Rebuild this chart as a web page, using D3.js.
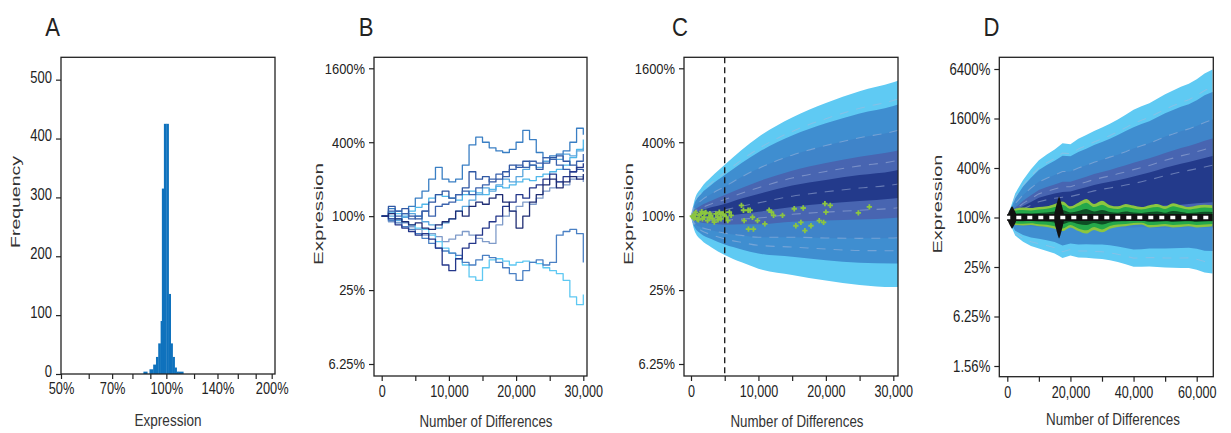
<!DOCTYPE html>
<html><head><meta charset="utf-8">
<script src="https://cdn.jsdelivr.net/npm/d3@7"></script>
<style>
body{margin:0;background:#fff;}
svg text{font-family:"Liberation Sans",Arial,Helvetica,sans-serif;fill:#222;}
</style></head><body>
<svg id="c" width="1231" height="433"></svg>
<script>
// ---------------- DATA ----------------
const panelLabels = ["A","B","C","D"];

// Panel A: histogram of expression (bin edges in %, counts)
const histLo = [86, 89.5, 91.7, 93.4, 94.8, 96.3, 97.1, 98.4, 100, 101.5, 102.9, 104.2, 105.6, 107, 108.4];
const histHi = [88.2, 91.7, 93.4, 94.8, 96.3, 97.1, 98.4, 100, 101.5, 102.9, 104.2, 105.6, 107, 108.4, 111.8];
const histCount = [4, 8, 16, 29, 52, 90, 315, 425, 425, 136, 52, 29, 11, 4, 4];
const histXTicks = [50, 60, 70, 80, 90, 100, 120, 140, 160, 180, 200];
const histXLabels = ["50%", "", "70%", "", "", "100%", "", "140%", "", "", "200%"];
const histYTicks = [0, 100, 200, 300, 400, 500];

// Panel B: random-walk expression traces (% of start) every 1,000 differences
const walkX = [0,1000,2000,3000,4000,5000,6000,7000,8000,9000,10000,11000,12000,13000,14000,15000,16000,17000,18000,19000,20000,21000,22000,23000,24000,25000,26000,27000,28000,29000,30000];
const walk1 = [100,95,105,90,85,80,78,70,62,55,50,45,40,32,30,38,44,45,43,40,42,43,42,41,38,36,34,30,22,19,23];
const walk2 = [100,108,95,100,110,118,125,140,150,145,140,135,150,160,155,150,165,175,170,180,190,200,195,210,220,230,240,260,300,350,420];
const walk3 = [100,115,110,105,120,140,160,200,250,200,190,200,260,380,440,400,360,340,330,350,400,500,420,330,300,310,320,340,400,520,460];
const walk4 = [100,92,88,82,78,72,66,60,55,52,50,48,42,40,44,48,46,42,38,34,30,36,42,44,40,42,70,75,78,72,42];
const walk5 = [100,95,85,80,75,70,72,65,55,40,36,45,55,60,70,80,90,100,120,130,150,140,170,180,200,220,190,210,230,250,270];
const walk6 = [100,105,95,90,85,88,80,78,85,90,95,110,100,120,130,125,140,150,130,110,80,100,130,150,180,200,170,190,210,200,220];
const walk7 = [100,110,100,105,95,100,110,100,120,125,130,150,160,150,170,180,200,220,210,240,260,250,280,270,300,290,260,240,230,280,320];
const walk8 = [100,90,95,88,82,78,70,72,68,62,65,70,75,70,66,62,60,85,100,110,120,130,125,140,160,170,190,180,200,210,190];
const walk9 = [100,120,110,115,100,95,110,130,150,160,140,150,170,230,200,210,190,200,230,260,250,280,260,240,270,300,310,280,260,240,230];
const walk10 = [100,100,92,98,105,100,90,85,80,88,95,110,120,135,150,170,160,180,200,190,210,240,260,250,280,300,290,320,310,340,360];
const walkColors = ["#5ec8f2","#4fb7ea","#3a7fc4","#4a80c4","#24378a","#1f2d74","#3b63ad","#7f9bc9","#2f57a3","#5aa6dd"];

// log2 tick values / labels
const logTicksBC = [4, 2, 0, -2, -4];
const logLabelsBC = ["1600%", "400%", "100%", "25%", "6.25%"];
const logTicksD = [6, 4, 2, 0, -2, -4, -6];
const logLabelsD = ["6400%", "1600%", "400%", "100%", "25%", "6.25%", "1.56%"];

// Panel C: fan of quantile bands (log2 fold), centre + half-widths
const fanCX = [0, 500, 1500, 3000, 5000, 7500, 10000, 15000, 20000, 25000, 30000, 31000];
const fanCCenter = [0, 0.02, 0.06, 0.11, 0.17, 0.27, 0.36, 0.54, 0.66, 0.76, 0.85, 0.88];
const fanCHalf1 = [0, 0.40, 0.70, 0.95, 1.22, 1.52, 1.78, 2.13, 2.40, 2.62, 2.77, 2.80];
const fanCHalf2 = [0, 0.31, 0.54, 0.73, 0.94, 1.17, 1.37, 1.64, 1.85, 2.02, 2.13, 2.16];
const fanCHalf3 = [0, 0.21, 0.36, 0.49, 0.63, 0.79, 0.93, 1.11, 1.25, 1.36, 1.44, 1.46];
const fanCHalf4 = [0, 0.13, 0.23, 0.31, 0.40, 0.49, 0.58, 0.69, 0.78, 0.85, 0.90, 0.91];
const fanCHalf5 = [0, 0.05, 0.09, 0.13, 0.16, 0.21, 0.24, 0.29, 0.32, 0.35, 0.37, 0.38];
const bandColors = ["#5fcaf3", "#3f8ed0", "#3f84c9", "#4865b1", "#233a8b"];
const cutoffC = 5000;
// Panel C: observed genes (differences, log2 fold)
const obsX = [200,300,450,600,700,950,1100,1200,1450,1600,1700,1950,2000,2200,2450,2700,2800,2950,3200,3450,3700,3950,4000,4200,4400,4450,4700,4950,5000,5200,5450,5700,5950,
  7480,7780,7880,8470,8770,9120,8520,9260,9860,10950,11590,11940,12240,13570,15310,15550,16300,16640,16890,17790,19020,19660,19860,20010,20650,24820,26450];
const obsY = [0.0,-0.02,-0.05,0.05,0.1,-0.08,-0.1,0.02,0.06,0.12,-0.07,-0.03,0.08,0.1,-0.12,-0.03,0.07,0.02,-0.07,-0.16,0.06,-0.03,-0.1,0.11,0.04,-0.07,0.06,0.02,0.1,-0.03,-0.12,0.11,0.02,
  0.29,0.16,-0.12,0.16,0.16,-0.03,-0.35,-0.35,-0.12,-0.21,0.16,0.11,0.02,0.02,0.2,-0.26,-0.17,0.22,-0.39,-0.26,-0.12,-0.17,0.34,0.11,0.29,0.09,0.25];

// Panel D: simulated fan (log2 fold) every 2,500 differences
const fanDX = [0,2500,5000,7500,10000,12500,15000,17500,20000,22500,25000,27500,30000,32500,35000,37500,40000,42500,45000,47500,50000,52500,55000,57500,60000,62500,65000];
const fanDCenter = [0,0.12,0.27,0.40,0.53,0.60,0.65,0.68,0.71,0.78,0.85,0.92,0.98,1.03,1.08,1.13,1.18,1.25,1.32,1.40,1.48,1.55,1.62,1.68,1.74,1.80,1.86];
// upper offsets from centre for each band (outer -> inner)
const fanDUp1 = [0,0.85,1.25,1.55,1.78,1.95,2.10,2.32,2.25,2.40,2.48,2.58,2.66,2.76,2.88,3.02,3.17,3.24,3.30,3.40,3.50,3.58,3.66,3.72,3.85,4.02,4.12];
const fanDUp2 = [0,0.66,0.98,1.21,1.39,1.52,1.64,1.81,1.76,1.87,1.93,2.01,2.07,2.15,2.25,2.36,2.47,2.53,2.57,2.65,2.73,2.79,2.85,2.90,3.00,3.14,3.21];
const fanDUp3 = [0,0.44,0.64,0.79,0.91,0.99,1.07,1.18,1.15,1.22,1.26,1.31,1.35,1.41,1.46,1.53,1.61,1.65,1.68,1.73,1.79,1.82,1.86,1.90,1.96,2.04,2.10];
const fanDUp4 = [0,0.28,0.41,0.50,0.58,0.63,0.68,0.76,0.73,0.77,0.80,0.84,0.86,0.89,0.94,0.98,1.03,1.05,1.07,1.10,1.13,1.16,1.19,1.21,1.25,1.30,1.33];
const fanDUp5 = [0,0.13,0.19,0.23,0.27,0.29,0.32,0.35,0.34,0.36,0.37,0.39,0.40,0.41,0.43,0.45,0.48,0.49,0.50,0.51,0.53,0.54,0.55,0.56,0.58,0.60,0.62];
// lower edges (absolute log2) for each band (outer -> inner)
const fanDLo1 = [0,-0.73,-0.98,-1.15,-1.25,-1.35,-1.45,-1.64,-1.54,-1.62,-1.63,-1.66,-1.68,-1.73,-1.80,-1.89,-1.99,-1.99,-1.98,-2.00,-2.02,-2.03,-2.04,-2.04,-2.11,-2.22,-2.26];
const fanDLo2 = [0,-0.54,-0.71,-0.81,-0.86,-0.92,-0.99,-1.13,-1.05,-1.09,-1.08,-1.09,-1.09,-1.12,-1.17,-1.23,-1.29,-1.28,-1.25,-1.25,-1.25,-1.24,-1.23,-1.22,-1.26,-1.34,-1.35];
const fanDLo3 = [0,-0.3,-0.35,-0.35,-0.38,-0.38,-0.4,-0.42,-0.38,-0.4,-0.42,-0.4,-0.42,-0.4,-0.38,-0.4,-0.4,-0.38,-0.4,-0.42,-0.4,-0.42,-0.4,-0.38,-0.4,-0.4,-0.4];
const fanDLo4 = [0,-0.15,-0.2,-0.2,-0.2,-0.2,-0.2,-0.2,-0.2,-0.15,-0.1,-0.1,-0.05,0,0,0.05,0.05,0.1,0.1,0.1,0.15,0.15,0.15,0.2,0.2,0.2,0.2];
const fanDLo5 = [0,0.0,0.05,0.08,0.1,0.12,0.14,0.16,0.18,0.2,0.22,0.25,0.28,0.3,0.32,0.35,0.38,0.4,0.42,0.45,0.48,0.5,0.52,0.55,0.58,0.6,0.62];
// Panel D: observed (green) envelope around 100%
const greenUp1 = [0,0.35,0.40,0.38,0.42,0.45,0.55,0.65,0.45,0.60,0.75,0.55,0.68,0.50,0.45,0.55,0.48,0.42,0.50,0.55,0.45,0.58,0.50,0.42,0.48,0.52,0.50];
const greenLo1 = [0,-0.30,-0.32,-0.30,-0.35,-0.38,-0.45,-0.55,-0.40,-0.55,-0.65,-0.50,-0.60,-0.45,-0.38,-0.35,-0.30,-0.28,-0.40,-0.38,-0.35,-0.40,-0.38,-0.35,-0.40,-0.38,-0.35];
const greenUp2 = [0,0.28,0.30,0.28,0.32,0.35,0.42,0.52,0.35,0.46,0.60,0.42,0.52,0.38,0.34,0.42,0.36,0.32,0.38,0.42,0.34,0.45,0.38,0.32,0.36,0.40,0.38];
const greenLo2 = [0,-0.24,-0.25,-0.23,-0.27,-0.29,-0.35,-0.44,-0.30,-0.44,-0.52,-0.38,-0.48,-0.34,-0.28,-0.26,-0.22,-0.21,-0.30,-0.29,-0.26,-0.30,-0.28,-0.26,-0.30,-0.28,-0.26];
const greenUp3 = [0,0.16,0.17,0.16,0.18,0.20,0.24,0.30,0.20,0.26,0.34,0.24,0.30,0.22,0.19,0.24,0.20,0.18,0.22,0.24,0.19,0.26,0.22,0.18,0.20,0.23,0.22];
const greenLo3 = [0,-0.14,-0.15,-0.14,-0.16,-0.17,-0.20,-0.26,-0.18,-0.26,-0.30,-0.22,-0.28,-0.20,-0.16,-0.15,-0.13,-0.12,-0.18,-0.17,-0.15,-0.18,-0.16,-0.15,-0.18,-0.16,-0.15];
const greenColors = ["#8cc63f", "#25a84a", "#0d4f25"];
// black diamonds: centre (differences), half width (differences), half height (log2)
const diamondX = [1500, 16400];
const diamondHalfW = [1700, 1700];
const diamondHalfH = [0.45, 0.85];

// ---------------- DRAW ----------------
const svg = d3.select("#c");

function squeeze(sel, f){
  sel.each(function(){
    const l = this.getComputedTextLength();
    if (l > 0) d3.select(this).attr("textLength", l*f).attr("lengthAdjust","spacingAndGlyphs");
  });
}
function frame(x0, y0, x1, y1){
  svg.append("rect").attr("x",x0).attr("y",y0).attr("width",x1-x0).attr("height",y1-y0)
    .attr("fill","none").attr("stroke","#222").attr("stroke-width",1.3);
}
function styleAxis(g, fs, f){
  g.attr("font-family", null).attr("font-size", null);
  g.select(".domain").remove();
  g.selectAll(".tick line").attr("stroke","#222").attr("stroke-width",1.2);
  g.selectAll(".tick text").attr("fill","#222").style("font-size", fs+"px");
  squeeze(g.selectAll(".tick text"), f);
}
function clip(id, x0, y0, x1, y1){
  svg.append("clipPath").attr("id",id).append("rect").attr("x",x0).attr("y",y0).attr("width",x1-x0).attr("height",y1-y0);
  return svg.append("g").attr("clip-path","url(#"+id+")");
}
function yTitle(txt, cx, cy, len){
  svg.append("text").attr("transform",`translate(${cx},${cy}) rotate(-90)`).attr("text-anchor","middle")
    .attr("dy","0.32em").style("font-size","13px").style("fill","#333").attr("textLength",len).attr("lengthAdjust","spacingAndGlyphs").text(txt);
}
function xTitle(txt, cx, by, len, fs){
  svg.append("text").attr("x",cx).attr("y",by).attr("text-anchor","middle")
    .style("font-size",fs+"px").style("fill","#333").attr("textLength",len).attr("lengthAdjust","spacingAndGlyphs").text(txt);
}
const letterPos = [[52.5,36],[366,36],[680,36],[991.5,36]];
panelLabels.forEach((t,i)=>{
  const tx = svg.append("text").attr("x",letterPos[i][0]).attr("y",letterPos[i][1]).attr("text-anchor","middle")
    .style("font-size","26px").text(t);
  squeeze(tx, 0.85);
});

// ---- Panel A ----
{
  const L=61, R=275, T=57.3, B=374;
  const x = d3.scaleLog().base(2).domain([50, 204.4]).range([L, R]);
  const y = d3.scaleLinear().domain([0, 538]).range([B, T]);
  const g = svg.append("g");
  g.selectAll("rect").data(histCount).join("rect")
    .attr("x",(d,i)=>x(histLo[i])).attr("width",(d,i)=>x(histHi[i])-x(histLo[i])+0.3)
    .attr("y",d=>y(d)).attr("height",d=>B-y(d)).attr("fill","#0f72bd");
  frame(L,T,R,B);
  const ax = svg.append("g").attr("transform",`translate(0,${B})`)
    .call(d3.axisBottom(x).tickValues(histXTicks).tickFormat((d,i)=>histXLabels[i]).tickSize(5).tickPadding(4));
  styleAxis(ax, 16, 0.8);
  const ay = svg.append("g").attr("transform",`translate(${L},0)`)
    .call(d3.axisLeft(y).tickValues(histYTicks).tickSize(5).tickPadding(4));
  styleAxis(ay, 16, 0.81);
  ay.selectAll(".tick text").attr("dy","0.15em");
  yTitle("Frequency", 16, 202, 92);
  xTitle("Expression", 168, 426, 67, 16);
}

// ---- Panel B ----
const yBC = d3.scaleLinear().domain([-4, 4]).range([364, 68.3]);
{
  const L=374, R=587, T=57.3, B=376;
  const x = d3.scaleLinear().domain([0, 30000]).range([381.7, 583.3]);
  const g = clip("clipB", L, T, R, B);
  const walks = [walk1,walk2,walk3,walk4,walk5,walk6,walk7,walk8,walk9,walk10];
  const line = d3.line().x((d,i)=>x(walkX[i])).y(d=>yBC(Math.log2(d/100))).curve(d3.curveStepAfter);
  const order = [7,0,1,3,9,2,8,6,4,5];
  order.forEach(k=>{
    g.append("path").attr("d", line(walks[k])).attr("fill","none")
      .attr("stroke", walkColors[k]).attr("stroke-width",1.3).attr("stroke-linejoin","round");
  });
  frame(L,T,R,B);
  const ax = svg.append("g").attr("transform",`translate(0,${B})`)
    .call(d3.axisBottom(x).tickValues([0,5000,10000,15000,20000,25000,30000])
      .tickFormat(d=> d%10000===0 ? d3.format(",")(d) : "").tickSize(5).tickPadding(4));
  styleAxis(ax, 17, 0.74);
  const ay = svg.append("g").attr("transform",`translate(${L},0)`)
    .call(d3.axisLeft(yBC).tickValues(logTicksBC).tickFormat((d,i)=>logLabelsBC[i]).tickSize(5).tickPadding(4));
  styleAxis(ay, 15, 0.86);
  yTitle("Expression", 319, 214, 102);
  xTitle("Number of Differences", 486, 427, 133, 17);
}

// ---- Panel C ----
{
  const L=684, R=898, T=57.3, B=376;
  const x = d3.scaleLinear().domain([0, 30000]).range([691, 893.3]);
  const g = clip("clipC", L, T, R, B);
  const halves = [fanCHalf1,fanCHalf2,fanCHalf3,fanCHalf4,fanCHalf5];
  halves.forEach((h,k)=>{
    const area = d3.area().x((d,i)=>x(fanCX[i])).y0((d,i)=>yBC(fanCCenter[i]-h[i])).y1((d,i)=>yBC(fanCCenter[i]+h[i])).curve(d3.curveMonotoneX);
    g.append("path").attr("d", area(fanCX)).attr("fill", bandColors[k]);
  });
  const dl = (f)=> d3.line().x((d,i)=>x(fanCX[i])).y((d,i)=>yBC(f(i))).curve(d3.curveMonotoneX)(fanCX);
  const dashFns = [i=>fanCCenter[i]+fanCHalf3[i], i=>fanCCenter[i]-fanCHalf3[i], i=>fanCCenter[i],
    i=>fanCCenter[i]+(fanCHalf4[i]+fanCHalf5[i])/2, i=>fanCCenter[i]-(fanCHalf4[i]+fanCHalf5[i])/2,
    i=>fanCCenter[i]+(fanCHalf1[i]+fanCHalf2[i])/2*0.93, i=>fanCCenter[i]-(fanCHalf2[i]+fanCHalf3[i])/2];
  dashFns.forEach(f=>{
    g.append("path").attr("d", dl(f)).attr("fill","none").attr("stroke","#aab9de")
      .attr("stroke-width",1.1).attr("stroke-dasharray","9,8").attr("opacity",0.5);
  });
  const sym = d3.symbol().type(d3.symbolCross).size(16);
  g.selectAll(".obs").data(obsX).join("path").attr("class","obs")
    .attr("transform",(d,i)=>`translate(${x(d)},${yBC(obsY[i])})`).attr("d", sym).attr("fill","#8cc63f");
  svg.append("line").attr("x1",x(cutoffC)).attr("x2",x(cutoffC)).attr("y1",T).attr("y2",B)
    .attr("stroke","#111").attr("stroke-width",1.3).attr("stroke-dasharray","6,4");
  frame(L,T,R,B);
  const ax = svg.append("g").attr("transform",`translate(0,${B})`)
    .call(d3.axisBottom(x).tickValues([0,5000,10000,15000,20000,25000,30000])
      .tickFormat(d=> d%10000===0 ? d3.format(",")(d) : "").tickSize(5).tickPadding(4));
  styleAxis(ax, 17, 0.74);
  const ay = svg.append("g").attr("transform",`translate(${L},0)`)
    .call(d3.axisLeft(yBC).tickValues(logTicksBC).tickFormat((d,i)=>logLabelsBC[i]).tickSize(5).tickPadding(4));
  styleAxis(ay, 15, 0.86);
  yTitle("Expression", 629, 214, 102);
  xTitle("Number of Differences", 797, 427, 133, 17);
}

// ---- Panel D ----
{
  const L=999.3, R=1213.3, T=57.3, B=376.7;
  const x = d3.scaleLinear().domain([0, 60000]).range([1007.3, 1196.7]);
  const y = d3.scaleLinear().domain([-6, 6]).range([366, 69]);
  const g = clip("clipD", L, T, R, B);
  const ups = [fanDUp1,fanDUp2,fanDUp3,fanDUp4,fanDUp5];
  const los = [fanDLo1,fanDLo2,fanDLo3,fanDLo4,fanDLo5];
  ups.forEach((h,k)=>{
    const area = d3.area().x((d,i)=>x(fanDX[i])).y0((d,i)=>y(los[k][i])).y1((d,i)=>y(fanDCenter[i]+h[i]));
    g.append("path").attr("d", area(fanDX)).attr("fill", bandColors[k]);
  });
  const dl = (f)=> d3.line().x((d,i)=>x(fanDX[i])).y((d,i)=>y(f(i)))(fanDX);
  const dashFns = [i=>fanDCenter[i]+fanDUp3[i], i=>fanDCenter[i]+fanDUp5[i]*0.4,
    i=>fanDCenter[i]+(fanDUp4[i]+fanDUp5[i])/2, i=>fanDCenter[i]+(fanDUp1[i]+fanDUp2[i])/2*0.93,
    i=>(fanDLo1[i]+fanDLo2[i])/2];
  dashFns.forEach(f=>{
    g.append("path").attr("d", dl(f)).attr("fill","none").attr("stroke","#aab9de")
      .attr("stroke-width",1.1).attr("stroke-dasharray","9,8").attr("opacity",0.5);
  });
  const gUps = [greenUp1, greenUp2, greenUp3], gLos = [greenLo1, greenLo2, greenLo3];
  gUps.forEach((u,k)=>{
    const area = d3.area().x((d,i)=>x(fanDX[i])).y0((d,i)=>y(gLos[k][i])).y1((d,i)=>y(u[i])).curve(d3.curveMonotoneX);
    g.append("path").attr("d", area(fanDX)).attr("fill", greenColors[k]);
  });
  diamondX.forEach((cx,i)=>{
    const pts = [[x(cx-diamondHalfW[i]), y(0)],[x(cx), y(diamondHalfH[i])],[x(cx+diamondHalfW[i]), y(0)],[x(cx), y(-diamondHalfH[i])]];
    g.append("path").attr("d", d3.line().curve(d3.curveCardinalClosed.tension(0.6))(pts)).attr("fill","#111");
  });
  g.append("line").attr("x1",x(0)).attr("x2",x(65000)).attr("y1",y(0)).attr("y2",y(0))
    .attr("stroke","#111").attr("stroke-width",7);
  g.append("line").attr("x1",x(0)-2).attr("x2",x(65000)).attr("y1",y(0)).attr("y2",y(0))
    .attr("stroke","#fff").attr("stroke-width",3.5).attr("stroke-dasharray","5,6");
  frame(L,T,R,B);
  const ax = svg.append("g").attr("transform",`translate(0,${B})`)
    .call(d3.axisBottom(x).tickValues([0,10000,20000,30000,40000,50000,60000])
      .tickFormat(d=> d%20000===0 ? d3.format(",")(d) : "").tickSize(5).tickPadding(4));
  styleAxis(ax, 17, 0.74);
  const ay = svg.append("g").attr("transform",`translate(${L},0)`)
    .call(d3.axisLeft(y).tickValues(logTicksD).tickFormat((d,i)=>logLabelsD[i]).tickSize(5).tickPadding(4));
  styleAxis(ay, 16, 0.82);
  yTitle("Expression", 938, 204, 99);
  xTitle("Number of Differences", 1113, 425, 134, 17);
}
</script>
</body></html>
